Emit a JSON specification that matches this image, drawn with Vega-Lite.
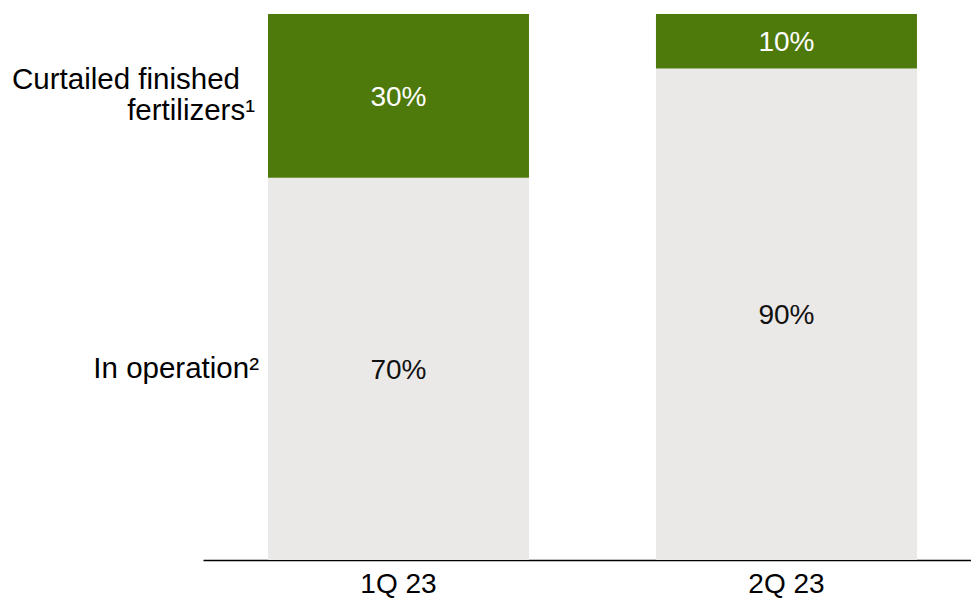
{
  "$schema": "https://vega.github.io/schema/vega-lite/v6.json",
  "width": 768,
  "height": 546,
  "autosize": {"type": "none"},
  "padding": {"left": 203, "top": 14, "right": 0, "bottom": 39},
  "config": {"view": {"stroke": null}, "font": "Liberation Sans", "text": {"font": "Liberation Sans"}},
  "data": {
    "values": [
      {"quarter": "1Q 23", "segment": "In operation", "rank": 1, "value": 70, "name": "In operation²"},
      {"quarter": "1Q 23", "segment": "Curtailed", "rank": 2, "value": 30, "name": "Curtailed finished fertilizers¹"},
      {"quarter": "2Q 23", "segment": "In operation", "rank": 1, "value": 90, "name": "In operation²"},
      {"quarter": "2Q 23", "segment": "Curtailed", "rank": 2, "value": 10, "name": "Curtailed finished fertilizers¹"}
    ]
  },
  "transform": [
    {"stack": "value", "groupby": ["quarter"], "sort": [{"field": "rank", "order": "ascending"}], "as": ["y0", "y1"]},
    {"calculate": "(datum.y0 + datum.y1) / 2", "as": "ymid"},
    {"calculate": "datum.value + '%'", "as": "pct"}
  ],
  "encoding": {
    "x": {
      "field": "quarter",
      "type": "nominal",
      "sort": ["1Q 23", "2Q 23"],
      "scale": {"paddingInner": 0.3273, "paddingOuter": 0.1534, "align": 0.546},
      "axis": {
        "title": null,
        "labelAngle": 0,
        "labelFontSize": 28,
        "labelFont": "Liberation Sans",
        "labelColor": "#000000",
        "ticks": false,
        "grid": false,
        "domainColor": "#000000",
        "domainWidth": 1.5,
        "labelPadding": 10
      }
    }
  },
  "layer": [
    {
      "mark": {"type": "bar"},
      "encoding": {
        "y": {"field": "y0", "type": "quantitative", "scale": {"domain": [0, 100], "nice": false, "zero": true}, "axis": null},
        "y2": {"field": "y1"},
        "color": {
          "field": "segment",
          "type": "nominal",
          "scale": {"domain": ["In operation", "Curtailed"], "range": ["#ebe9e7", "#4e790b"]},
          "legend": null
        }
      }
    },
    {
      "mark": {"type": "text", "fontSize": 28, "baseline": "middle", "align": "center", "dy": 2},
      "encoding": {
        "y": {"field": "ymid", "type": "quantitative"},
        "text": {"field": "pct", "type": "nominal"},
        "color": {
          "condition": {"test": "datum.segment === 'Curtailed'", "value": "#ffffff"},
          "value": "#111111"
        }
      }
    },
    {
      "transform": [{"filter": "datum.quarter === '1Q 23' && datum.segment === 'Curtailed'"}],
      "mark": {"type": "text", "fontSize": 29.5, "baseline": "middle", "align": "right", "dx": -28, "dy": -16, "color": "#000000"},
      "encoding": {
        "x": {"field": "quarter", "type": "nominal", "bandPosition": 0},
        "y": {"field": "ymid", "type": "quantitative"},
        "text": {"value": "Curtailed finished"}
      }
    },
    {
      "transform": [{"filter": "datum.quarter === '1Q 23' && datum.segment === 'Curtailed'"}],
      "mark": {"type": "text", "fontSize": 29.5, "baseline": "middle", "align": "right", "dx": -13, "dy": 15, "color": "#000000"},
      "encoding": {
        "x": {"field": "quarter", "type": "nominal", "bandPosition": 0},
        "y": {"field": "ymid", "type": "quantitative"},
        "text": {"value": "fertilizers¹"}
      }
    },
    {
      "transform": [{"filter": "datum.quarter === '1Q 23' && datum.segment === 'In operation'"}],
      "mark": {"type": "text", "fontSize": 29.5, "baseline": "middle", "align": "right", "dx": -9, "color": "#000000"},
      "encoding": {
        "x": {"field": "quarter", "type": "nominal", "bandPosition": 0},
        "y": {"field": "ymid", "type": "quantitative"},
        "text": {"field": "name", "type": "nominal"}
      }
    }
  ]
}
